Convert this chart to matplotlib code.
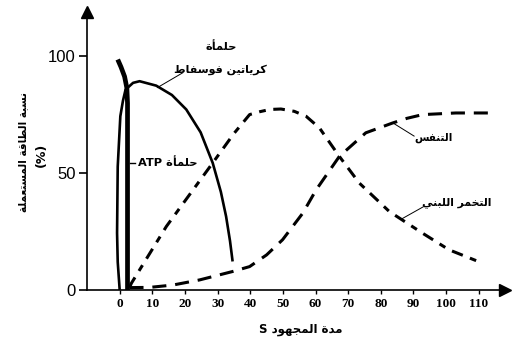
import matplotlib
matplotlib.use("Agg")
import matplotlib.pyplot as plt

# ---------------- data ----------------
atp_x = [-0.6, 0.4, 1.5, 2.2, 2.4, 2.4]
atp_y = [98.7, 95.5, 91.4, 86.5, 80.0, 0.0]

cp_x = [0.0, -0.6, -0.8, -0.6, 0.2, 1.0, 1.8, 4.1, 6.1, 11.2, 16.0, 20.4, 24.8, 28.5, 31.0, 32.6, 33.8, 34.6]
cp_y = [0.0, 12.0, 24.4, 52.8, 74.4, 81.0, 85.8, 88.7, 89.4, 87.5, 83.5, 77.3, 67.5, 54.4, 42.0, 31.5, 21.0, 12.2]

gly_x = [3.0, 3.6, 14.3, 28.5, 35.0, 39.8, 42.8, 46.0, 49.4, 53.5, 57.1, 61.2, 67.3, 73.4, 82.6, 92.8, 100.9, 111.1]
gly_y = [1.0, 2.9, 27.2, 54.4, 67.0, 75.1, 76.3, 77.3, 77.5, 76.5, 74.4, 69.4, 57.2, 45.8, 33.6, 24.3, 17.2, 11.5]

resp_x = [3.0, 9.2, 16.3, 24.5, 34.6, 39.8, 45.0, 49.9, 56.1, 60.2, 67.3, 75.4, 83.6, 88.0, 92.8, 103.0, 114.2]
resp_y = [1.0, 1.1, 2.1, 4.3, 7.9, 10.0, 15.0, 21.5, 32.9, 42.9, 57.2, 67.3, 71.5, 73.5, 75.1, 75.8, 75.8]

x_ticks = [0, 10, 20, 30, 40, 50, 60, 70, 80, 90, 100, 110]
y_ticks = [0, 50, 100]

lbl_cp_1 = "حلمأة"
lbl_cp_2 = "كرياتين فوسفاط"
lbl_atp = "حلمأة"
lbl_resp = "التنفس"
lbl_gly = "التخمر اللبني"
ylab_1 = "نسبة الطاقة المستعملة"
ylab_2 = "(%)"
xlab = "مدة المجهود"

# ------------- minimal Arabic shaping (presentation forms, visual order) -------------
F = {
    'ا': ('\uFE8D', '\uFE8E', None, None),
    'أ': ('\uFE83', '\uFE84', None, None),
    'ب': ('\uFE8F', '\uFE90', '\uFE91', '\uFE92'),
    'ة': ('\uFE93', '\uFE94', None, None),
    'ت': ('\uFE95', '\uFE96', '\uFE97', '\uFE98'),
    'ج': ('\uFE9D', '\uFE9E', '\uFE9F', '\uFEA0'),
    'ح': ('\uFEA1', '\uFEA2', '\uFEA3', '\uFEA4'),
    'خ': ('\uFEA5', '\uFEA6', '\uFEA7', '\uFEA8'),
    'د': ('\uFEA9', '\uFEAA', None, None),
    'ر': ('\uFEAD', '\uFEAE', None, None),
    'س': ('\uFEB1', '\uFEB2', '\uFEB3', '\uFEB4'),
    'ط': ('\uFEC1', '\uFEC2', '\uFEC3', '\uFEC4'),
    'ع': ('\uFEC9', '\uFECA', '\uFECB', '\uFECC'),
    'ف': ('\uFED1', '\uFED2', '\uFED3', '\uFED4'),
    'ق': ('\uFED5', '\uFED6', '\uFED7', '\uFED8'),
    'ك': ('\uFED9', '\uFEDA', '\uFEDB', '\uFEDC'),
    'ل': ('\uFEDD', '\uFEDE', '\uFEDF', '\uFEE0'),
    'م': ('\uFEE1', '\uFEE2', '\uFEE3', '\uFEE4'),
    'ن': ('\uFEE5', '\uFEE6', '\uFEE7', '\uFEE8'),
    'ه': ('\uFEE9', '\uFEEA', '\uFEEB', '\uFEEC'),
    'و': ('\uFEED', '\uFEEE', None, None),
    'ي': ('\uFEF1', '\uFEF2', '\uFEF3', '\uFEF4'),
}


def ar(s):
    out = []
    for i, c in enumerate(s):
        if c not in F:
            out.append(c)
            continue
        iso, fin, ini, med = F[c]
        prev = s[i - 1] if i > 0 else ''
        nxt = s[i + 1] if i + 1 < len(s) else ''
        jp = prev in F and F[prev][2] is not None
        jn = nxt in F and ini is not None
        if jp and jn:
            out.append(med)
        elif jp:
            out.append(fin)
        elif jn:
            out.append(ini)
        else:
            out.append(iso)
    return ''.join(out)[::-1]


AR = dict(family='DejaVu Sans', fontweight='bold')

fig = plt.figure(figsize=(5.12, 3.46), dpi=100)
ax = fig.add_axes([0.170, 0.162, 0.816, 0.803])
ax.set_xlim(-10, 118)
ax.set_ylim(0, 119)

for s in ['top', 'right']:
    ax.spines[s].set_visible(False)
ax.spines['left'].set_linewidth(1.2)
ax.spines['bottom'].set_linewidth(1.2)
ax.plot(1, 0, '>k', ms=9, transform=ax.transAxes, clip_on=False)
ax.plot(0, 1, '^k', ms=9, transform=ax.transAxes, clip_on=False)

ax.set_yticks(y_ticks)
ax.set_yticklabels([str(v) for v in y_ticks], fontsize=12, family='Liberation Sans')
ax.set_xticks(x_ticks)
ax.set_xticklabels([str(v) for v in x_ticks], fontsize=9.5, family='Liberation Serif', fontweight='bold')
ax.tick_params(axis='y', length=6, width=1.2, pad=2)
ax.tick_params(axis='x', length=3, width=1, pad=3)

# curves
ax.plot(cp_x, cp_y, color='black', lw=1.9, solid_capstyle='butt')
ax.plot(atp_x, atp_y, color='black', lw=3.4, solid_capstyle='butt')
ax.plot(gly_x, gly_y, color='black', lw=2.2, dashes=(3.8, 2.5, 2.2, 2.5))
ax.plot(resp_x, resp_y, color='black', lw=2.2, dashes=(4.6, 2.9))

# labels
ax.text(31.2, 104.3, ar(lbl_cp_1), ha='center', va='center', fontsize=8.2, **AR)
ax.text(30.9, 94.4, ar(lbl_cp_2), ha='center', va='center', fontsize=8.0, **AR)
ax.plot([11.6, 19.3], [86.7, 93.0], color='black', lw=0.7)

ax.text(5.6, 54.5, 'ATP ' + ar(lbl_atp), ha='left', va='center', fontsize=8.2, **AR)
ax.plot([3.3, 4.6], [54.5, 54.5], color='black', lw=1.0)

ax.text(96.3, 65.2, ar(lbl_resp), ha='center', va='center', fontsize=7.6, **AR)
ax.plot([84.1, 90.2], [71.2, 65.9], color='black', lw=0.7)

ax.text(103.4, 37.3, ar(lbl_gly), ha='center', va='center', fontsize=7.8, **AR)
ax.plot([86.5, 93.0], [30.5, 35.6], color='black', lw=0.7)

fig.text(23 / 512, 1 - 152 / 346, ar(ylab_1), rotation=90, ha='center', va='center', fontsize=7.6, **AR)
fig.text(41 / 512, 1 - 155 / 346, ylab_2, rotation=90, ha='center', va='center', fontsize=9, **AR)
fig.text(301 / 512, 1 - 330 / 346, 'S ' + ar(xlab), ha='center', va='center', fontsize=8.5, **AR)

fig.savefig('out.png', dpi=100)
